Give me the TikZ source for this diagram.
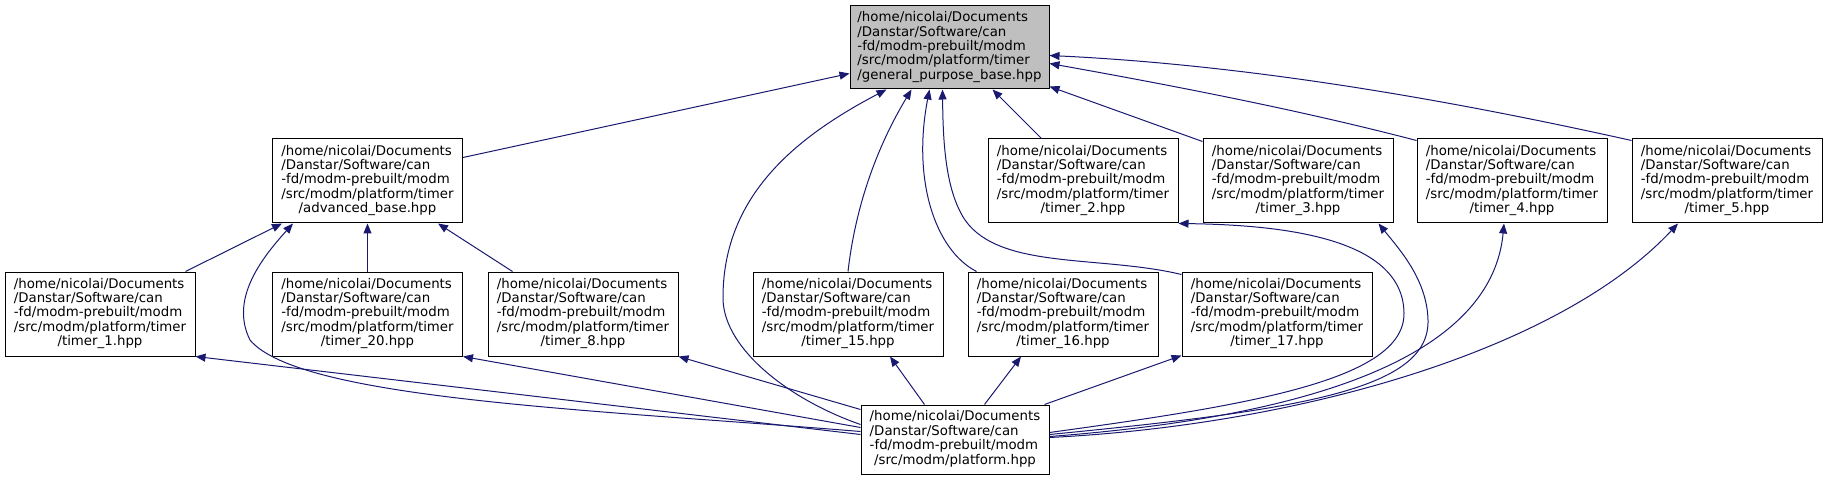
\documentclass[tikz,border=0pt]{standalone}
\usepackage{fontspec}
\setmainfont{DejaVu Sans}
\usetikzlibrary{arrows.meta,calc,positioning}

\definecolor{edgeblue}{RGB}{25,25,112}
\definecolor{rootgray}{RGB}{191,191,191}

\newcommand{\timerpath}[1]{\begin{tabular}{@{}l@{}}/home/nicolai/Documents\\/Danstar/Software/can\\-fd/modm-prebuilt/modm\\/src/modm/platform/timer\\\multicolumn{1}{@{}c@{}}{#1}\end{tabular}}
\newcommand{\platformpath}{\begin{tabular}{@{}l@{}}/home/nicolai/Documents\\/Danstar/Software/can\\-fd/modm-prebuilt/modm\\\multicolumn{1}{@{}c@{}}{/src/modm/platform.hpp}\end{tabular}}

\begin{document}
\begin{tikzpicture}[x=0.75pt, y=-0.75pt,
    block/.style={draw=black, fill=white, rectangle, line width=0.75pt, inner sep=0pt, minimum width=142.5pt, minimum height=63pt, font=\fontsize{10}{10.7}\selectfont},
    edge/.style={-{Triangle[length=7.5pt,width=6pt]}, draw=edgeblue, line width=0.75pt},
]
\useasboundingbox (0,0) rectangle (1828,481);

% Root header
\node[block, fill=rootgray, minimum width=149.25pt, minimum height=62.25pt] (gpbase) at (949.5,47.5) {\timerpath{/general\_purpose\_base.hpp}};

% First level
\node[block] (advbase) at (367.5,181) {\timerpath{/advanced\_base.hpp}};
\node[block] (tim2) at (1083,181) {\timerpath{/timer\_2.hpp}};
\node[block] (tim3) at (1298,181) {\timerpath{/timer\_3.hpp}};
\node[block] (tim4) at (1512,181) {\timerpath{/timer\_4.hpp}};
\node[block] (tim5) at (1727,181) {\timerpath{/timer\_5.hpp}};

% Second level
\node[block] (tim1) at (100,314) {\timerpath{/timer\_1.hpp}};
\node[block] (tim20) at (367.5,314) {\timerpath{/timer\_20.hpp}};
\node[block] (tim8) at (583,314) {\timerpath{/timer\_8.hpp}};
\node[block] (tim15) at (848,314) {\timerpath{/timer\_15.hpp}};
\node[block] (tim16) at (1063,314) {\timerpath{/timer\_16.hpp}};
\node[block] (tim17) at (1277,314) {\timerpath{/timer\_17.hpp}};

% Bottom
\node[block, minimum width=141pt, minimum height=51.75pt] (platform) at (955,439.5) {\platformpath};

% Edges into the root
\draw[edge] ($(advbase.north east)+(0,19)$) -- ($(gpbase.south west)+(0,-16)$);
\draw[edge] ($(platform.north west)+(0,20)$) .. controls (790,400) and (725,350) .. (723,300)
    .. controls (722,200) and (790,140) .. ($(gpbase.south west)+(37,0)$);
\draw[edge] (tim15.north) .. controls (855,210) and (875,150) .. ($(gpbase.south west)+(62,0)$);
\draw[edge] ($(tim16.north west)+(9,0)$) .. controls (935,250) and (912,180) .. ($(gpbase.south west)+(80,0)$);
\draw[edge] ($(tim17.north west)+(0,3)$) .. controls (1100,255) and (1000,270) .. (965,220)
    .. controls (945,190) and (943,140) .. ($(gpbase.south west)+(93,0)$);
\draw[edge] ($(tim2.north west)+(54,0)$) -- ($(gpbase.south west)+(143,0)$);
\draw[edge] ($(tim3.north west)+(0,3)$) -- ($(gpbase.south east)+(0,-3)$);
\draw[edge] ($(tim4.north west)+(0,2)$) .. controls (1300,110) and (1170,85) .. ($(gpbase.south east)+(0,-26)$);
\draw[edge] ($(tim5.north west)+(0,2)$) .. controls (1450,100) and (1250,65) .. ($(gpbase.south east)+(0,-34)$);

% Edges into advanced_base
\draw[edge] ($(tim1.north east)+(-10,0)$) -- ($(advbase.south west)+(10,0)$);
\draw[edge] ($(platform.north west)+(0,27)$) .. controls (600,410) and (300,400) .. (250,340)
    .. controls (230,300) and (260,260) .. ($(advbase.south west)+(21,0)$);
\draw[edge] (tim20.north) -- (advbase.south);
\draw[edge] ($(tim8.north west)+(25,0)$) -- ($(advbase.south east)+(-25,0)$);

% Edges out of platform
\draw[edge] ($(platform.north west)+(0,30)$) -- (tim1.south east);
\draw[edge] ($(platform.north west)+(0,23)$) -- (tim20.south east);
\draw[edge] ($(platform.north west)+(0,5)$) -- (tim8.south east);
\draw[edge] ($(platform.north west)+(64,0)$) -- ($(tim15.south)+(42,0)$);
\draw[edge] ($(platform.north west)+(124,0)$) -- ($(tim16.south)+(-42,0)$);
\draw[edge] ($(platform.north east)+(-5,0)$) -- ($(tim17.south west)+(0,-1)$);
\draw[edge] ($(platform.north east)+(0,28)$) .. controls (1250,405) and (1405,380) .. (1404,313)
    .. controls (1403,240) and (1290,225) .. (tim2.south east);
\draw[edge] ($(platform.north east)+(0,30)$) .. controls (1300,410) and (1430,390) .. (1428,320)
    .. controls (1427,280) and (1400,250) .. ($(tim3.south east)+(-15,0)$);
\draw[edge] ($(platform.north east)+(0,32)$) .. controls (1400,410) and (1495,320) .. ($(tim4.south)+(-8,0)$);
\draw[edge] ($(platform.north east)+(0,33)$) .. controls (1300,425) and (1560,350) .. ($(tim5.south)+(-49,0)$);

\end{tikzpicture}
\end{document}
